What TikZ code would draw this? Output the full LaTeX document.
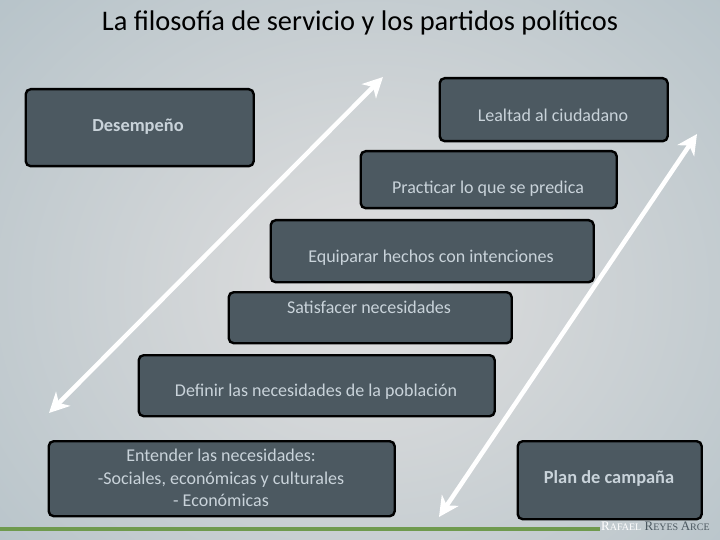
\documentclass[tikz,border=0pt]{standalone}
\usepackage{fontspec}
\usepackage{xcolor}
\setmainfont{Carlito}
\newfontfamily\signfont{Liberation Serif}
\usetikzlibrary{arrows.meta,positioning,calc}
\definecolor{SlideEdge}{HTML}{A3B6BF}
\definecolor{SlideMid}{HTML}{E0DFDF}
\definecolor{PanelFill}{HTML}{4C5961}
\definecolor{PanelText}{HTML}{C9D3DA}
\definecolor{RuleGreen}{HTML}{6F9A4E}

\begin{document}
\begin{tikzpicture}[
    x=1pt, y=-1pt,
    panel/.style={draw=black, line width=2.4pt, rounded corners=5pt, fill=PanelFill,
      inner sep=0pt, anchor=north west},
    panelText/.style={text=PanelText, align=center, font=\fontsize{18}{22.5}\selectfont, inner sep=0pt},
    panelBold/.style={panelText, font=\fontsize{18.4}{22.5}\selectfont\bfseries},
    arrow/.style={{Stealth[length=20pt,width=20pt,inset=6pt]}-{Stealth[length=20pt,width=20pt,inset=6pt]},
      line width=4.5pt, color=white}
  ]
    \useasboundingbox (0,0) rectangle (720,540);
    \shade[inner color=SlideMid, outer color=SlideEdge, shading=radial] (-380,-350) rectangle (1120,930);
    \clip (0,0) rectangle (720,540);

    \node[text=black, font=\fontsize{28.4}{32}\selectfont, inner sep=0pt] (title) at (360,23) {La filosofía de servicio y los partidos políticos};

    \node[panel, minimum width=228pt, minimum height=77pt] (desempeno) at (24.5,88) {};
    \node[panel, minimum width=228pt, minimum height=63pt] (lealtad) at (438.5,77) {};
    \node[panel, minimum width=256pt, minimum height=57pt] (practicar) at (359.5,150) {};
    \node[panel, minimum width=323pt, minimum height=62pt] (equiparar) at (269.5,219) {};
    \node[panel, minimum width=283pt, minimum height=51pt] (satisfacer) at (227.5,291) {};
    \node[panel, minimum width=356pt, minimum height=61pt] (definir) at (137.5,354) {};
    \node[panel, minimum width=346pt, minimum height=75pt] (entender) at (47.5,440) {};
    \node[panel, minimum width=184pt, minimum height=78pt] (plan) at (516.5,440) {};

    \node[panelBold] (desempenoText) at (138,127) {Desempeño};
    \node[panelText] (lealtadText) at (553,115) {Lealtad al ciudadano};
    \node[panelText] (practicarText) at (488,189) {Practicar lo que se predica};
    \node[panelText] (equipararText) at (431,258) {Equiparar hechos con intenciones};
    \node[panelText] (satisfacerText) at (369,307) {Satisfacer necesidades};
    \node[panelText] (definirText) at (316,392) {Definir las necesidades de la población};
    \node[panelText] (entenderText) at (221,478) {Entender las necesidades:\\-Sociales, económicas y culturales\\- Económicas};
    \node[panelBold] (planText) at (609,478) {Plan de campaña};

    % white arrows
    \coordinate (arrowOneLow) at (49,413);
    \coordinate (arrowOneHigh) at (383,77);
    \coordinate (arrowTwoLow) at (439,517);
    \coordinate (arrowTwoHigh) at (697,134);
    \draw[arrow] (arrowOneLow) -- (arrowOneHigh);
    \draw[arrow] (arrowTwoLow) -- (arrowTwoHigh);

    % footer
    \fill[RuleGreen] (0,527) rectangle (600,531);
    \node[anchor=west, inner sep=0pt, font=\signfont\fontsize{13}{15}\selectfont, text=white] (signature) at (601,526)
      {\textcolor{white}{R\fontsize{10}{15}\selectfont AFAEL} \textcolor{PanelFill}{\fontsize{13}{15}\selectfont R\fontsize{10}{15}\selectfont EYES \fontsize{13}{15}\selectfont A\fontsize{10}{15}\selectfont RCE}};
  \end{tikzpicture}
\end{document}
